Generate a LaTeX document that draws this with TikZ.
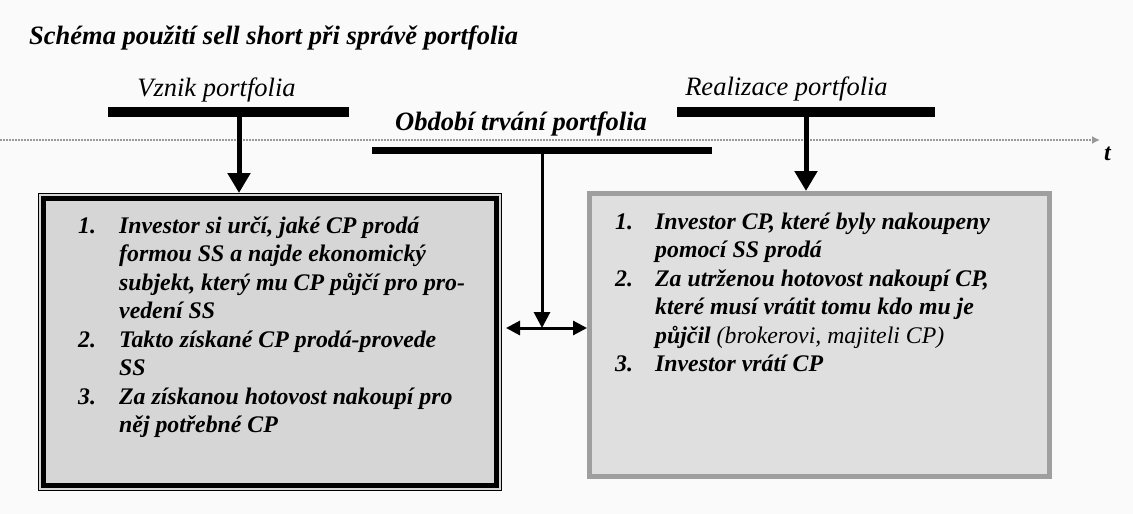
\documentclass[tikz,border=0pt]{standalone}
\usepackage{fontspec}
\setmainfont{Liberation Serif}
\usetikzlibrary{arrows.meta}

\begin{document}
\begin{tikzpicture}[x=1pt,y=-1pt]
    \tikzset{bar/.style = {fill=black, inner sep=0pt, minimum height=10pt}}
    \tikzset{heading/.style = {inner sep=0pt, anchor=base, font=\fontsize{26.5}{30}\selectfont\itshape}}
    \tikzset{boldheading/.style = {heading, font=\fontsize{26.5}{30}\selectfont\bfseries\itshape}}
    \tikzset{boxtext/.style = {inner sep=0pt, anchor=base west, font=\fontsize{23.8}{28.5}\selectfont\bfseries\itshape}}
    \tikzset{leftbox/.style = {draw=black, line width=1pt, fill=gray!32, minimum width=463pt, minimum height=297pt}}
    \tikzset{rightbox/.style = {draw=gray!75, line width=5pt, fill=gray!25, minimum width=460pt, minimum height=283pt}}
    \tikzset{bigarrow/.style = {draw, line width=5pt, -{Triangle[width=22pt,length=20pt]}}}
    \tikzset{thinarrow/.style = {draw, line width=3pt, -{Triangle[width=16pt,length=16pt]}}}
    \tikzset{dblarrow/.style = {draw, line width=3pt, {Triangle[width=14pt,length=14pt]}-{Triangle[width=14pt,length=14pt]}}}
    \tikzset{timeline/.style = {draw=gray!80, line width=1.5pt, dash pattern=on 1.5pt off 1.5pt, -{Latex[length=8pt,width=8pt]}}}

    \useasboundingbox[fill=gray!4] (0,0) rectangle (1133,514);

    % time axis
    \coordinate (tstart) at (0,140);
    \coordinate (tend) at (1100,140);
    \draw[timeline] (tstart) -- (tend);
    \node[inner sep=0pt, anchor=base west, font=\fontsize{24}{28}\selectfont\bfseries\itshape] (tlabel) at (1104,160) {t};

    % headings
    \node[boldheading, anchor=base west] (title) at (29,44) {Schéma použití sell short při správě portfolia};
    \node[heading] (vznik) at (216.5,96) {Vznik portfolia};
    \node[heading] (realizace) at (786.5,95) {Realizace portfolia};
    \node[boldheading] (obdobi) at (521,130) {Období trvání portfolia};

    % bars
    \node[bar, minimum width=241pt] (vznikbar) at (228.5,112) {};
    \node[bar, minimum width=258pt] (realbar) at (806,112) {};
    \node[bar, minimum width=340pt, minimum height=7pt] (obdobibar) at (542,150) {};

    % boxes
    \node[leftbox] (leftbox) at (270,342) {};
    \draw[line width=5pt] ([shift={(5.5,5.5)}]leftbox.north west) rectangle ([shift={(-5.5,-5.5)}]leftbox.south east);
    \node[rightbox] (rightbox) at (819.5,335) {};

    \node[boxtext] (lefttext) at (78,233) {\begin{tabular}[t]{@{}p{41pt}@{}l@{}}
        1. & Investor si určí, jaké CP prodá\\
           & formou SS a najde ekonomický\\
           & subjekt, který mu CP půjčí pro pro-\\
           & vedení SS\\
        2. & Takto získané CP prodá-provede\\
           & SS\\
        3. & Za získanou hotovost nakoupí pro\\
           & něj potřebné CP
    \end{tabular}};
    \node[boxtext] (righttext) at (615,229) {\begin{tabular}[t]{@{}p{40pt}@{}l@{}}
        1. & Investor CP, které byly nakoupeny\\
           & pomocí SS prodá\\
        2. & Za utrženou hotovost nakoupí CP,\\
           & které musí vrátit tomu kdo mu je\\
           & půjčil {\mdseries (brokerovi, majiteli CP)}\\
        3. & Investor vrátí CP
    \end{tabular}};

    % arrows
    \coordinate (vznikdrop) at ([xshift=10.5pt]vznikbar.south);
    \coordinate (junction) at (542,328);
    \draw[bigarrow] (vznikdrop) -- (vznikdrop |- leftbox.north);
    \draw[bigarrow] (realbar.south) -- (realbar.south |- rightbox.north);
    \draw[thinarrow] (obdobibar.south) -- (junction);
    \draw[dblarrow, shorten <=4pt] (leftbox.east |- junction) -- (rightbox.west |- junction);
\end{tikzpicture}
\end{document}
